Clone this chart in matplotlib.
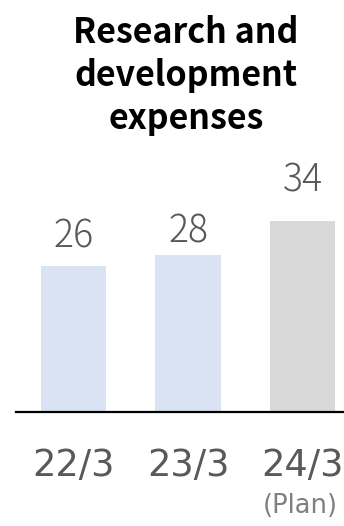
import matplotlib.pyplot as plt
import matplotlib.transforms as mtransforms

plt.rcParams['font.family'] = ['Noto Sans CJK JP', 'DejaVu Sans']

# R&D expenses by fiscal year
periods = ["22/3", "23/3", "24/3"]
expenses = [26, 28, 34]
bar_colors = ["#dae3f3", "#dae3f3", "#d9d9d9"]
# space between bar top and value label, in data units
label_gap = [5.1, 4.1, 7.2]

fig = plt.figure(figsize=(3.44, 5.26), dpi=100)
ax = fig.add_axes([0.0465, 0.2167, 0.9535, 0.5171])

x = range(len(periods))
bars = ax.bar(x, expenses, width=0.57, color=bar_colors)

for b, v, g in zip(bars, expenses, label_gap):
    ax.text(b.get_x() + b.get_width() / 2, v + g, str(v),
            ha="center", va="center", fontsize=27, color="#595959",
            fontweight="light")

ax.set_xlim(-0.5, 2.36)
ax.set_ylim(0, 48.4)

for side in ["top", "right", "left"]:
    ax.spines[side].set_visible(False)
ax.spines["bottom"].set_linewidth(1.6)
ax.spines["bottom"].set_color("black")
ax.set_yticks([])
ax.set_xticks(list(x))
ax.set_xticklabels(periods, fontsize=26.5, color="#595959", family="DejaVu Sans")
ax.tick_params(axis="x", length=0, pad=25)

trans = mtransforms.blended_transform_factory(ax.transData, ax.transAxes)
ax.text(1.98, -0.345, "(Plan)", transform=trans, ha="center", va="center",
        fontsize=18.5, color="#808080", family="DejaVu Sans")

fig.text(0.54, 0.857, "Research and\ndevelopment\nexpenses", ha="center",
         va="center", fontsize=24.5, fontweight="bold", linespacing=1.28)

fig.savefig("out.png", dpi=100)
